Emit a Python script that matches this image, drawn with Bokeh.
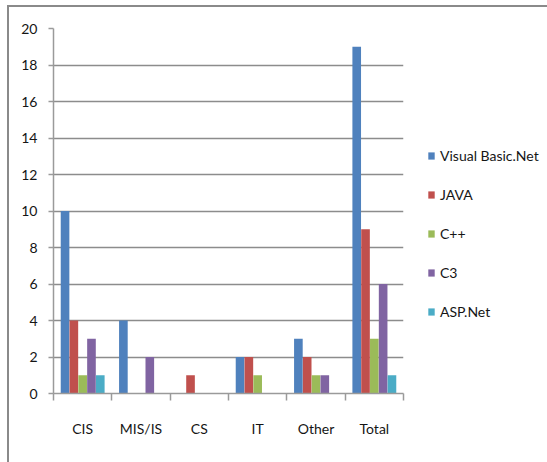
from bokeh.plotting import figure
from bokeh.models import ColumnDataSource, Range1d, FixedTicker, Legend, LegendItem
from bokeh.transform import dodge
from bokeh.embed import file_html
from bokeh.resources import INLINE

# Enrolment counts by programme and language
categories = ["CIS", "MIS/IS", "CS", "IT", "Other", "Total"]
series = ["Visual Basic.Net", "JAVA", "C++", "C3", "ASP.Net"]
visual_basic = [10, 4, 0, 2, 3, 19]
java = [4, 0, 1, 2, 2, 9]
cpp = [1, 0, 0, 1, 1, 3]
c3 = [3, 2, 0, 0, 1, 6]
asp_net = [1, 0, 0, 0, 0, 1]
y_ticks = list(range(0, 21, 2))

colors = ["#4F81BD", "#C0504D", "#9BBB59", "#8064A2", "#4BACC6"]
FONT = "Lato"
GRAY = "#8a8a8a"
TEXT = "#151515"

n = len(categories)
centers = [i + 0.5 for i in range(n)]
source = ColumnDataSource(dict(x=centers, vb=visual_basic, java=java, cpp=cpp,
                               c3=c3, asp=asp_net))
cols = ["vb", "java", "cpp", "c3", "asp"]

p = figure(width=547, height=462, output_backend="svg", toolbar_location=None,
           x_range=Range1d(0, n), y_range=Range1d(0, 20),
           min_border_left=53, min_border_right=144, min_border_top=28,
           min_border_bottom=69, frame_width=350, frame_height=365)
p.outline_line_color = None
p.background_fill_color = "white"
p.border_fill_color = None
# chart area border (left and top edges visible)
p.styles = {
    "background": (f"linear-gradient({GRAY},{GRAY}) 7px 5px / 2px 100% no-repeat, "
                   f"linear-gradient({GRAY},{GRAY}) 7px 5px / 100% 2px no-repeat, white"),
}

bw = 0.151
renderers = []
for k, (col, c) in enumerate(zip(cols, colors)):
    r = p.vbar(x=dodge("x", (k - 2) * bw, range=p.x_range), top=col, width=bw * 0.98,
               bottom=0, source=source, fill_color=c, line_color=None)
    renderers.append(r)

# y axis
p.yaxis.ticker = FixedTicker(ticks=y_ticks)
p.yaxis.major_tick_out = 5
p.yaxis.major_tick_in = 0
p.yaxis.minor_tick_line_color = None
p.yaxis.axis_line_color = "#9a9a9a"
p.yaxis.axis_line_width = 1.5
p.yaxis.major_tick_line_color = "#9a9a9a"
p.yaxis.major_tick_line_width = 1.5
p.yaxis.major_label_text_font = FONT
p.yaxis.major_label_text_font_size = "14px"
p.yaxis.major_label_text_color = TEXT
p.yaxis.major_label_standoff = 11

# x axis: labels at category centres, ticks at category boundaries
p.xaxis.ticker = FixedTicker(ticks=centers, minor_ticks=list(range(n + 1)))
p.xaxis.major_label_overrides = {c: lab for c, lab in zip(centers, categories)}
p.xaxis.major_tick_line_color = None
p.xaxis.minor_tick_out = 7
p.xaxis.minor_tick_in = 0
p.xaxis.minor_tick_line_color = "#9a9a9a"
p.xaxis.minor_tick_line_width = 1.5
p.xaxis.axis_line_color = "#9a9a9a"
p.xaxis.axis_line_width = 1.5
p.xaxis.major_label_text_font = FONT
p.xaxis.major_label_text_font_size = "14px"
p.xaxis.major_label_text_color = TEXT
p.xaxis.major_label_standoff = 19

p.xgrid.grid_line_color = None
p.ygrid.grid_line_color = "#8c8c8c"
p.ygrid.grid_line_width = 1.5

legend = Legend(items=[LegendItem(label=s, renderers=[r]) for s, r in zip(series, renderers)],
                location=(24, 72), orientation="vertical",
                glyph_width=8, glyph_height=9, label_standoff=5,
                label_height=20, spacing=19, padding=0, margin=0,
                border_line_color=None, background_fill_alpha=0,
                label_text_font=FONT, label_text_font_size="14px",
                label_text_color=TEXT)
p.add_layout(legend, "right")

open("out.html", "w").write(file_html(p, INLINE))
